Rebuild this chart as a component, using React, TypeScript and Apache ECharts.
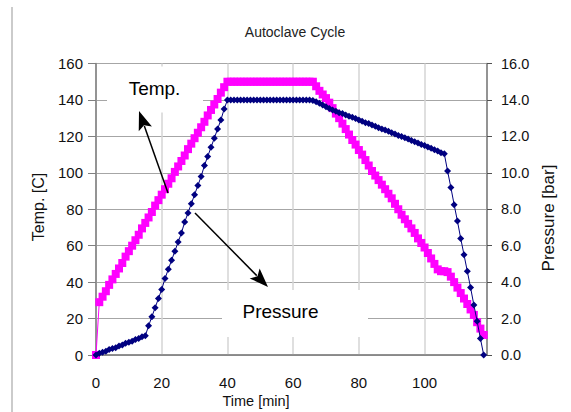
import React, { useEffect, useRef } from "react";
import * as echarts from "echarts";

// Time [min]
const timeMin = [
  0, 1, 2, 3, 4, 5, 6, 7, 8, 9, 10, 11, 12, 13, 14, 15, 16, 17, 18, 19,
  20, 21, 22, 23, 24, 25, 26, 27, 28, 29, 30, 31, 32, 33, 34, 35, 36, 37, 38, 39,
  40, 41, 42, 43, 44, 45, 46, 47, 48, 49, 50, 51, 52, 53, 54, 55, 56, 57, 58, 59,
  60, 61, 62, 63, 64, 65, 66, 67, 68, 69, 70, 71, 72, 73, 74, 75, 76, 77, 78, 79,
  80, 81, 82, 83, 84, 85, 86, 87, 88, 89, 90, 91, 92, 93, 94, 95, 96, 97, 98, 99,
  100, 101, 102, 103, 104, 105, 106, 107, 108, 109, 110, 111, 112, 113, 114, 115, 116, 117, 118,
];

// Temp. [C]
const temperature = [
  0, 29, 32, 35, 38.5, 41.5, 44.5, 47.5, 50.5, 54, 57, 60, 63, 66, 69.5, 72.5, 75.5, 78.5, 82, 85,
  88, 91, 94, 97, 100.5, 103.5, 106.5, 109.5, 113, 116, 119, 122, 125, 128, 131.5, 134.5, 137.5, 140.5, 144, 147,
  150, 150, 150, 150, 150, 150, 150, 150, 150, 150, 150, 150, 150, 150, 150, 150, 150, 150, 150, 150,
  150, 150, 150, 150, 150, 150, 150, 147.5, 145, 143, 141, 138.5, 135.5, 132.5, 130, 127, 124, 121, 118, 115.5,
  112.5, 110, 107, 104, 101, 98.5, 96, 93.5, 91, 88.5, 86, 83, 80, 77, 74.5, 72, 69.5, 67, 64, 61.5,
  59, 56, 53, 50, 47, 46, 46, 45.5, 43, 40, 37, 34, 31, 28, 25, 22, 18, 14.5, 11,
];

// Pressure [bar]
const pressure = [
  0, 0.1, 0.15, 0.2, 0.3, 0.35, 0.4, 0.5, 0.55, 0.65, 0.7, 0.75, 0.85, 0.9, 1.0, 1.05, 1.6, 2.1, 2.6, 3.1,
  3.6, 4.2, 4.7, 5.2, 5.7, 6.2, 6.7, 7.3, 7.8, 8.3, 8.8, 9.3, 9.8, 10.4, 10.9, 11.4, 11.9, 12.4, 12.9, 13.5,
  14, 14, 14, 14, 14, 14, 14, 14, 14, 14, 14, 14, 14, 14, 14, 14, 14, 14, 14, 14,
  14, 14, 14, 14, 14, 14, 13.97, 13.9, 13.82, 13.72, 13.62, 13.53, 13.45, 13.38, 13.3, 13.25, 13.18, 13.1, 13.05, 12.98,
  12.9, 12.83, 12.75, 12.7, 12.63, 12.55, 12.48, 12.4, 12.35, 12.28, 12.2, 12.13, 12.05, 12.0, 11.92, 11.85, 11.78, 11.7, 11.63, 11.55,
  11.5, 11.42, 11.35, 11.27, 11.2, 11.1, 11.05, 10.1, 9.2, 8.25, 7.35, 6.4, 5.5, 4.6, 3.7, 2.75, 1.85, 0.9, 0,
];

const FONT = "'Liberation Sans', Arial, sans-serif";

function arrowEls(tail: number[], tip: number[]) {
  const dx = tip[0] - tail[0];
  const dy = tip[1] - tail[1];
  const L = Math.hypot(dx, dy);
  const ux = dx / L;
  const uy = dy / L;
  const hl = 19;
  const hw = 7;
  const bx = tip[0] - ux * hl;
  const by = tip[1] - uy * hl;
  return [
    {
      type: "line",
      z: 5,
      shape: { x1: tail[0], y1: tail[1], x2: bx + ux * 3, y2: by + uy * 3 },
      style: { stroke: "#000", lineWidth: 1.5 },
    },
    {
      type: "polygon",
      z: 5,
      shape: {
        points: [
          [tip[0], tip[1]],
          [bx - uy * hw, by + ux * hw],
          [bx + ux * 4, by + uy * 4],
          [bx + uy * hw, by - ux * hw],
        ],
      },
      style: { fill: "#000" },
    },
  ];
}

export default function App() {
  const ref = useRef<HTMLDivElement>(null);
  useEffect(() => {
    if (!ref.current) return;
    const chart = echarts.init(ref.current, null, { renderer: "svg" });
    const tempData = timeMin.map((t, i) => [t, temperature[i]]);
    const presData = timeMin.map((t, i) => [t, pressure[i]]);
    chart.setOption({
      animation: false,
      backgroundColor: "#fff",
      grid: {
        left: 96,
        right: 84,
        top: 63.5,
        bottom: 57,
        show: true,
        borderColor: "#808080",
        borderWidth: 1,
        backgroundColor: "transparent",
      },
      xAxis: {
        type: "value",
        min: 0,
        max: 119,
        interval: 20,
        axisLine: { show: true, lineStyle: { color: "#808080", width: 1.5 } },
        axisTick: { show: false },
        axisLabel: {
          fontSize: 15,
          margin: 20,
          color: "#111",
          fontFamily: FONT,
          showMaxLabel: false,
        },
        splitLine: { show: true, lineStyle: { color: "#d4d4d4", width: 1.5 } },
      },
      yAxis: [
        {
          type: "value",
          position: "left",
          min: 0,
          max: 160,
          interval: 20,
          axisLine: { show: true, lineStyle: { color: "#808080", width: 1.5 } },
          axisTick: { show: true, length: 8, lineStyle: { color: "#808080" } },
          axisLabel: { fontSize: 15, margin: 13, color: "#111", fontFamily: FONT },
          splitLine: { show: true, lineStyle: { color: "#a6a6a6", width: 1.2 } },
        },
        {
          type: "value",
          position: "right",
          min: 0,
          max: 16,
          interval: 2,
          axisLine: { show: true, lineStyle: { color: "#808080", width: 1.5 } },
          axisTick: { show: true, length: 5, lineStyle: { color: "#505050" } },
          axisLabel: {
            fontSize: 14.5,
            margin: 14,
            color: "#111",
            fontFamily: FONT,
            formatter: (v: number) => v.toFixed(1),
          },
          splitLine: { show: false },
        },
      ],
      series: [
        {
          name: "Temp.",
          type: "line",
          yAxisIndex: 0,
          data: tempData,
          symbol: "rect",
          symbolSize: 8,
          showAllSymbol: true,
          lineStyle: { color: "#ff00ff", width: 1 },
          itemStyle: { color: "#ff00ff" },
          z: 2,
        },
        {
          name: "Pressure",
          type: "line",
          yAxisIndex: 1,
          data: presData,
          symbol: "diamond",
          symbolSize: 7,
          showAllSymbol: true,
          lineStyle: { color: "#000080", width: 1 },
          itemStyle: { color: "#000080" },
          z: 3,
        },
      ],
      graphic: [
        {
          type: "line",
          shape: { x1: 12, y1: 7, x2: 12, y2: 412 },
          style: { stroke: "#a8a8a8", lineWidth: 1.2 },
        },
        {
          type: "text",
          x: 295,
          y: 31.5,
          style: {
            text: "Autoclave Cycle",
            fontSize: 14,
            fontFamily: FONT,
            fill: "#222",
            align: "center",
            verticalAlign: "middle",
          },
        },
        {
          type: "text",
          x: 256,
          y: 401,
          style: {
            text: "Time [min]",
            fontSize: 14.5,
            fontFamily: FONT,
            fill: "#111",
            align: "center",
            verticalAlign: "middle",
          },
        },
        {
          type: "text",
          x: 38,
          y: 207,
          rotation: Math.PI / 2,
          style: {
            text: "Temp. [C]",
            fontSize: 16,
            fontFamily: FONT,
            fill: "#111",
            align: "center",
            verticalAlign: "middle",
          },
        },
        {
          type: "text",
          x: 548,
          y: 218,
          rotation: Math.PI / 2,
          style: {
            text: "Pressure [bar]",
            fontSize: 17,
            fontFamily: FONT,
            fill: "#111",
            align: "center",
            verticalAlign: "middle",
          },
        },
        {
          type: "rect",
          z: 4,
          shape: { x: 107, y: 66.5, width: 96, height: 46 },
          style: { fill: "#fff" },
        },
        {
          type: "rect",
          z: 4,
          shape: { x: 222, y: 290, width: 146, height: 47 },
          style: { fill: "#fff" },
        },
        {
          type: "text",
          z: 5,
          x: 154.5,
          y: 88.5,
          style: {
            text: "Temp.",
            fontSize: 19,
            fontFamily: FONT,
            fill: "#000",
            align: "center",
            verticalAlign: "middle",
          },
        },
        {
          type: "text",
          z: 5,
          x: 280.5,
          y: 311.5,
          style: {
            text: "Pressure",
            fontSize: 19,
            fontFamily: FONT,
            fill: "#000",
            align: "center",
            verticalAlign: "middle",
          },
        },
        ...arrowEls([168, 193], [139, 111]),
        ...arrowEls([195, 213], [268, 287]),
      ],
    });
    return () => chart.dispose();
  }, []);
  return (
    <div
      ref={ref}
      style={{ position: "fixed", left: 0, top: 0, width: 571, height: 412 }}
    />
  );
}
